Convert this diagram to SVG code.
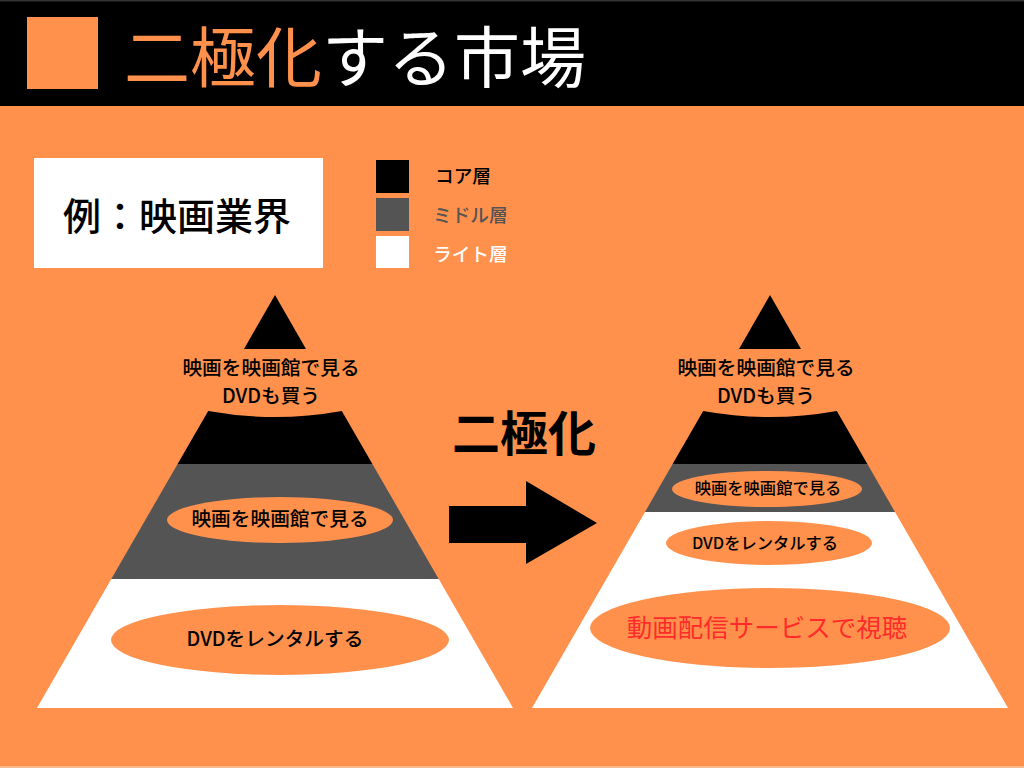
<svg xmlns="http://www.w3.org/2000/svg" width="1024" height="768" viewBox="0 0 1024 768">
<style>
text{font-family:"Noto Sans CJK JP","Noto Sans",sans-serif;}
.lbl{font-size:19.7px;font-weight:500;fill:#000;text-anchor:middle;}
.sm{font-size:16.3px;font-weight:500;fill:#000;text-anchor:middle;}
.leg{font-size:18.7px;font-weight:500;}
.org{fill:#FF914D;}
.blk{fill:#000;}
.gry{fill:#545454;}
.wht{fill:#fff;}
</style>
<rect width="1024" height="768" fill="#FF914D"/>
<rect y="766" width="1024" height="2" fill="#FFB98A"/>
<g id="header">
<rect width="1024" height="106" fill="#000"/>
<rect width="1024" height="1.5" fill="#333"/>
<rect x="27" y="17" width="71" height="72" class="org"/>
<text x="124" y="82" style="font-size:66px;font-weight:400"><tspan fill="#FF914D">二極化</tspan><tspan fill="#fff">する市場</tspan></text>
</g>
<g id="example">
<rect x="34" y="158" width="289" height="110" class="wht"/>
<text x="177" y="230" style="font-size:38px;font-weight:500;text-anchor:middle">例：映画業界</text>
</g>
<g id="legend">
<rect x="376" y="160" width="33" height="33" class="blk"/>
<rect x="376" y="198" width="33" height="33" class="gry"/>
<rect x="376" y="236" width="33" height="32" class="wht"/>
<text x="435" y="183" class="leg" fill="#000">コア層</text>
<text x="433" y="222" class="leg" fill="#545454">ミドル層</text>
<text x="433" y="261" class="leg" fill="#fff">ライト層</text>
</g>
<g id="pyramid-left">
<polygon points="275,295 244,349 306,349" class="blk"/>
<path d="M208.2,411 Q275,423 341.8,411 L372.4,464 L177.6,464 Z" class="blk"/>
<polygon points="177.6,464 372.4,464 438.7,579 111.3,579" class="gry"/>
<polygon points="111.3,579 438.7,579 513,708 37,708" class="wht"/>
<text x="271" y="375" class="lbl">映画を映画館で見る</text>
<text x="271" y="403" class="lbl">DVDも買う</text>
<ellipse cx="280" cy="520" rx="113" ry="23" class="org"/>
<text x="280" y="526" class="lbl">映画を映画館で見る</text>
<ellipse cx="280" cy="640" rx="169" ry="35" class="org"/>
<text x="275" y="646" class="lbl">DVDをレンタルする</text>
</g>
<g id="transition">
<text x="524" y="451" style="font-size:48px;font-weight:700;text-anchor:middle" fill="#000">二極化</text>
<polygon points="449,506 526,506 526,481 597,523 526,564 526,543 449,543" class="blk"/>
</g>
<g id="pyramid-right">
<polygon points="770,295 739,349 801,349" class="blk"/>
<path d="M703.2,411 Q770,423 836.8,411 L867.4,464 L672.6,464 Z" class="blk"/>
<polygon points="672.6,464 867.4,464 895,512 645,512" class="gry"/>
<polygon points="645,512 895,512 1008,708 532,708" class="wht"/>
<text x="766" y="375" class="lbl">映画を映画館で見る</text>
<text x="766" y="403" class="lbl">DVDも買う</text>
<ellipse cx="767" cy="489" rx="95" ry="18" class="org"/>
<text x="768" y="494" class="sm">映画を映画館で見る</text>
<ellipse cx="769" cy="543" rx="103" ry="22" class="org"/>
<text x="765" y="549" class="sm">DVDをレンタルする</text>
<ellipse cx="770" cy="628" rx="180" ry="40" class="org"/>
<text x="767" y="637" style="font-size:25.5px;font-weight:400;text-anchor:middle" fill="#FF2B2B">動画配信サービスで視聴</text>
</g>
</svg>
